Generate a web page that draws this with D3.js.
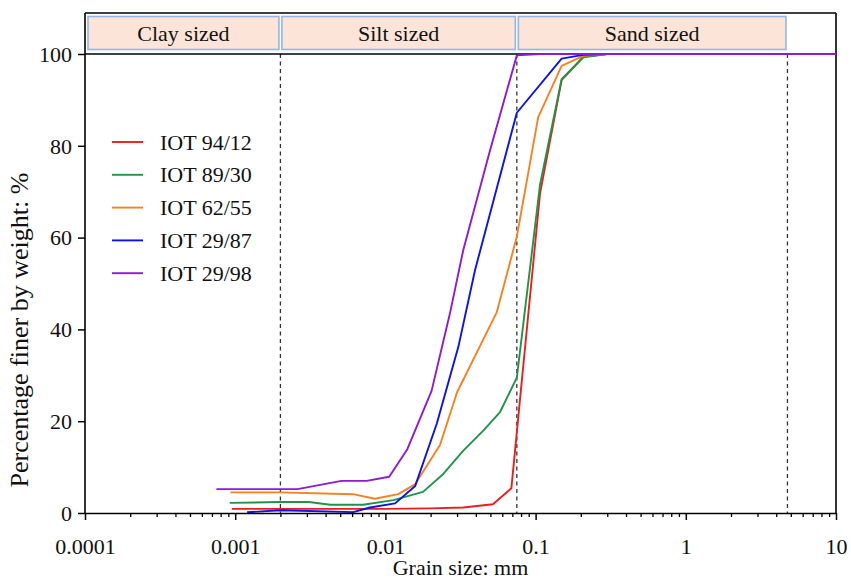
<!DOCTYPE html>
<html>
<head>
<meta charset="utf-8">
<script src="https://cdn.jsdelivr.net/npm/d3@7"></script>
<style>
  html, body { margin: 0; padding: 0; background: #ffffff; }
  text { font-family: "Liberation Serif", "Times New Roman", serif; fill: #111; }
</style>
</head>
<body>
<svg id="chart" width="851" height="582"></svg>
<script>
// ---------------- data ----------------
const seriesNames = ["IOT 94/12", "IOT 89/30", "IOT 62/55", "IOT 29/87", "IOT 29/98"];

const size_94_12 = [0.00095, 0.002, 0.005, 0.01, 0.02, 0.033, 0.052, 0.069, 0.107, 0.149, 0.208, 0.3, 0.6, 1.18, 2.36, 4.75, 10];
const pct_94_12  = [0.9, 0.9, 0.9, 0.9, 1.0, 1.2, 1.9, 5.4, 69.6, 94.3, 99.4, 100, 100, 100, 100, 100, 100];

const size_89_30 = [0.00092, 0.002, 0.0031, 0.0043, 0.0071, 0.0113, 0.0178, 0.0243, 0.033, 0.045, 0.058, 0.075, 0.107, 0.149, 0.208, 0.3, 0.6, 1.18, 2.36, 4.75, 10];
const pct_89_30  = [2.2, 2.4, 2.4, 1.8, 1.8, 2.8, 4.6, 8.5, 13.6, 18.0, 22.0, 29.5, 71.5, 94.5, 99.3, 100, 100, 100, 100, 100, 100];

const size_62_55 = [0.00093, 0.002, 0.0061, 0.0085, 0.0122, 0.0158, 0.0231, 0.030, 0.0551, 0.075, 0.104, 0.149, 0.208, 0.3, 0.6, 1.18, 2.36, 4.75, 10];
const pct_62_55  = [4.5, 4.5, 4.1, 3.1, 4.1, 6.3, 14.8, 26.3, 43.7, 60.2, 86.2, 97.4, 99.6, 100, 100, 100, 100, 100, 100];

const size_29_87 = [0.0012, 0.002, 0.0061, 0.0079, 0.0116, 0.0158, 0.022, 0.0306, 0.0395, 0.075, 0.149, 0.208, 0.3, 0.6, 1.18, 2.36, 4.75, 10];
const pct_29_87  = [0.15, 0.6, 0.2, 1.2, 2.1, 5.9, 19.5, 36.2, 52.9, 87.2, 99.0, 99.8, 100, 100, 100, 100, 100, 100];

const size_29_98 = [0.00075, 0.0026, 0.0051, 0.0075, 0.0106, 0.0140, 0.0203, 0.0269, 0.033, 0.0497, 0.075, 0.107, 0.149, 0.208, 0.3, 0.6, 1.18, 2.36, 4.75, 10];
const pct_29_98  = [5.2, 5.2, 7.0, 7.0, 7.9, 13.9, 26.6, 43.5, 57.3, 79.0, 99.7, 100, 100, 100, 100, 100, 100, 100, 100, 100];

const seriesSizes = [size_94_12, size_89_30, size_62_55, size_29_87, size_29_98];
const seriesPcts  = [pct_94_12, pct_89_30, pct_62_55, pct_29_87, pct_29_98];

const xTickValues = [0.0001, 0.001, 0.01, 0.1, 1, 10];
const xTickLabels = ["0.0001", "0.001", "0.01", "0.1", "1", "10"];
const yTickValues = [0, 20, 40, 60, 80, 100];

const bandNames  = ["Clay sized", "Silt sized", "Sand sized"];
const bandLimits = [0.0001, 0.002, 0.075, 4.75];   // boundaries in mm

// ---------------- styles ----------------
const seriesColors = ["#ee1c1c", "#1f9447", "#f7801f", "#0c12e8", "#8c1ad6"];

const svg = d3.select("#chart");
const W = 851, H = 582;
const mLeft = 85, mRight = 836, frameTop = 13, plotTop = 54, plotBottom = 513;

svg.append("rect").attr("width", W).attr("height", H).attr("fill", "#fff");

const x = d3.scaleLog().domain([0.0001, 10]).range([mLeft, mRight]);
const y = d3.scaleLinear().domain([0, 100]).range([plotBottom, plotTop]);

// bands (header)
const bandG = svg.append("g");
for (let i = 0; i < bandNames.length; i++) {
  const x0 = x(bandLimits[i]) + (i === 0 ? 3 : 1.5);
  const x1 = x(bandLimits[i + 1]) - 1.5;
  bandG.append("rect")
    .attr("x", x0).attr("y", 16.5)
    .attr("width", x1 - x0).attr("height", 33)
    .attr("fill", "#fce5d8")
    .attr("stroke", "#92b6ea").attr("stroke-width", 1.6);
  bandG.append("text")
    .attr("x", (x0 + x1) / 2).attr("y", 40.5)
    .attr("text-anchor", "middle")
    .style("font-size", "22px")
    .text(bandNames[i]);
}

// dashed boundary lines
svg.append("g").selectAll("line")
  .data(bandLimits.slice(1))
  .join("line")
  .attr("x1", d => x(d)).attr("x2", d => x(d))
  .attr("y1", plotTop).attr("y2", plotBottom)
  .attr("stroke", "#333").attr("stroke-width", 1.3)
  .attr("stroke-dasharray", "4,3.5");

// frame
svg.append("line").attr("x1", mLeft).attr("x2", mRight).attr("y1", frameTop).attr("y2", frameTop)
  .attr("stroke", "#000").attr("stroke-width", 1.6);
svg.append("line").attr("x1", mRight).attr("x2", mRight).attr("y1", frameTop).attr("y2", plotBottom)
  .attr("stroke", "#000").attr("stroke-width", 1.6);
svg.append("line").attr("x1", mLeft).attr("x2", mRight).attr("y1", plotTop).attr("y2", plotTop)
  .attr("stroke", "#000").attr("stroke-width", 1.6);

// curves
const line = d3.line().x(d => x(d[0])).y(d => y(d[1]));
seriesNames.forEach((name, i) => {
  const pts = seriesSizes[i].map((s, j) => [s, seriesPcts[i][j]]);
  svg.append("path")
    .datum(pts)
    .attr("d", line)
    .attr("fill", "none")
    .attr("stroke", seriesColors[i])
    .attr("stroke-width", 1.9)
    .attr("stroke-linejoin", "round");
});

// x axis minor ticks
const minorTicks = [];
for (let e = -4; e < 1; e++) {
  for (let m = 2; m <= 9; m++) minorTicks.push(m * Math.pow(10, e));
}
svg.append("g")
  .attr("transform", `translate(0,${plotBottom})`)
  .call(d3.axisBottom(x).tickValues(minorTicks).tickSize(4).tickFormat(""))
  .call(g => g.select(".domain").remove())
  .call(g => g.selectAll("line").attr("stroke", "#000").attr("stroke-width", 1.3));

// x axis major
svg.append("g")
  .attr("transform", `translate(0,${plotBottom})`)
  .call(d3.axisBottom(x).tickValues(xTickValues).tickSize(7).tickSizeOuter(0)
    .tickFormat((d, i) => xTickLabels[i]))
  .call(g => g.select(".domain").attr("stroke", "#000").attr("stroke-width", 1.6))
  .call(g => g.selectAll(".tick line").attr("stroke", "#000").attr("stroke-width", 1.5))
  .call(g => g.selectAll(".tick text")
    .attr("y", 0).attr("dy", 0).attr("transform", "translate(0,41)")
    .style("font-size", "22px").style("font-family", "Liberation Serif, serif").attr("fill", "#111"));

// y axis
svg.append("g")
  .attr("transform", `translate(${mLeft},0)`)
  .call(d3.axisLeft(y).tickValues(yTickValues).tickSize(7).tickSizeOuter(0).tickFormat(d3.format("d")))
  .call(g => g.select(".domain").remove())
  .call(g => g.selectAll(".tick line").attr("stroke", "#000").attr("stroke-width", 1.5))
  .call(g => g.selectAll(".tick text")
    .attr("x", -13).attr("dy", "0.33em")
    .style("font-size", "22px").style("font-family", "Liberation Serif, serif").attr("fill", "#111"));
svg.append("line").attr("x1", mLeft).attr("x2", mLeft).attr("y1", frameTop).attr("y2", plotBottom)
  .attr("stroke", "#000").attr("stroke-width", 1.6);

// axis titles
svg.append("text")
  .attr("x", (mLeft + mRight) / 2).attr("y", 575)
  .attr("text-anchor", "middle")
  .style("font-size", "22px")
  .text("Grain size: mm");
svg.append("text")
  .attr("transform", `translate(28,330) rotate(-90)`)
  .attr("text-anchor", "middle")
  .style("font-size", "26px")
  .text("Percentage finer by weight: %");

// legend
const legend = svg.append("g");
seriesNames.forEach((name, i) => {
  const ly = 142 + i * 32.8;
  legend.append("line")
    .attr("x1", 112).attr("x2", 143).attr("y1", ly).attr("y2", ly)
    .attr("stroke", seriesColors[i]).attr("stroke-width", 1.9);
  legend.append("text")
    .attr("x", 160).attr("y", ly + 7.5)
    .style("font-size", "22px")
    .text(name);
});
</script>
</body>
</html>
